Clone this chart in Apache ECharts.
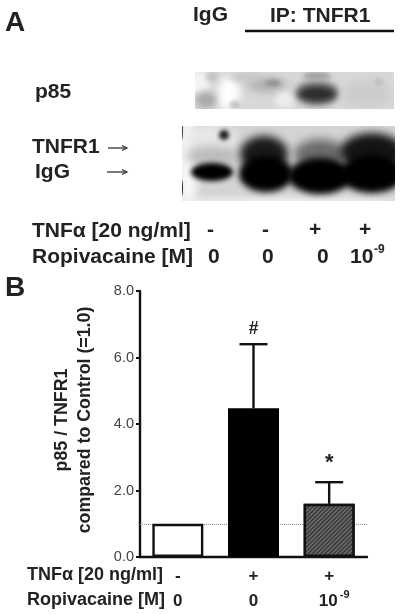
<!DOCTYPE html>
<html><head><meta charset="utf-8">
<style>html,body{margin:0;padding:0;background:#fff}#c{width:400px;height:614px;filter:blur(0.5px)}</style>
<script src="https://cdn.jsdelivr.net/npm/echarts@6/dist/echarts.min.js"></script>
</head><body><div id="c"></div>
<script>
const groups = ['Control', 'TNF', 'TNF + Ropivacaine'];
const values = [1.0, 4.47, 1.6];
const errorTops = [null, 6.4, 2.25];
const marks = ['', '#', '*'];
const tnfRow = ['-', '+', '+'];
const ropRow = ['0', '0', '10'];
const ropSup = ['', '', '-9'];
const yTicks = [0, 2, 4, 6, 8];
const reference = 1.0;
const FONT = '"Liberation Sans", Arial, sans-serif';
const INK = '#222';

function blotCanvas(w, h, bg, blobs) {
  const cv = document.createElement('canvas'); cv.width = w; cv.height = h;
  const g = cv.getContext('2d');
  g.fillStyle = bg; g.fillRect(0, 0, w, h);
  blobs.forEach(b => {
    g.filter = 'blur(' + b[5] + 'px)';
    g.fillStyle = b[4];
    g.beginPath(); g.ellipse(b[0], b[1], b[2], b[3], 0, 0, Math.PI * 2); g.fill();
  });
  g.filter = 'none';
  return cv;
}
const blotTop = blotCanvas(199, 37, '#d8d8d8', [
  [34, 22, 11, 18, '#ffffff', 4], [3, 10, 12, 12, '#f4f4f4', 3],
  [11, 28, 10, 8, '#a8a8a8', 3], [17, 5, 6, 5, '#c4c4c4', 2], [40, 33, 6, 4, '#c0c0c0', 2],
  [72, 13, 20, 7, '#b0b0b0', 4], [78, 11, 8, 3, '#8c8c8c', 2], [50, 5, 16, 4, '#c4c4c4', 3],
  [90, 28, 10, 8, '#eeeeee', 3], [122, 21, 22, 13, '#8c8c8c', 3], [122, 22, 19, 8, '#2c2c2c', 3],
  [122, 4, 14, 4, '#a0a0a0', 2], [172, 22, 24, 14, '#cccccc', 5], [184, 10, 4, 3, '#b8b8b8', 2]
]);
const blotBottom = blotCanvas(213, 75, '#d4d4d4', [
  [6, 38, 10, 50, '#f8f8f8', 4], [100, 76, 120, 5, '#eeeeee', 3],
  [30, 14, 26, 16, '#e8e8e8', 6], [30, 30, 26, 10, '#bcbcbc', 5], [42, 9, 5, 5, '#1a1a1a', 2],
  [30, 46, 21, 9, '#000', 2.5],
  [82, 28, 24, 18, '#1a1a1a', 4], [84, 48, 27, 18, '#000', 3],
  [138, 28, 26, 15, '#6c6c6c', 5], [138, 50, 32, 18, '#000', 3],
  [190, 26, 32, 19, '#141414', 4], [190, 48, 32, 19, '#000', 3],
  [0.5, 5, 0.5, 9, '#444', 0.5], [0.5, 62, 0.5, 8, '#333', 0.5]
]);

function t(x, y, text, size, extra) {
  return { type: 'text', x, y, silent: true, style: Object.assign({
    text, fontFamily: FONT, fontWeight: 'bold', fontSize: size, fill: INK,
    verticalAlign: 'middle', align: 'left' }, extra || {}) };
}
function arrow(x1, x2, y) {
  return [
    { type: 'line', silent: true, shape: { x1, y1: y, x2, y2: y }, style: { stroke: '#333', lineWidth: 1.3 } },
    { type: 'polyline', silent: true, shape: { points: [[x2 - 5, y - 2.5], [x2, y], [x2 - 5, y + 2.5]] }, style: { stroke: '#333', lineWidth: 1.2, fill: 'none' } }
  ];
}
const graphic = [
  t(5, 23, 'A', 28), t(5, 288, 'B', 28),
  t(193, 15, 'IgG', 21), t(270, 16, 'IP: TNFR1', 21),
  { type: 'line', silent: true, shape: { x1: 245, y1: 31, x2: 394, y2: 31 }, style: { stroke: '#111', lineWidth: 2.4 } },
  t(35, 92, 'p85', 21), t(32, 147, 'TNFR1', 21), t(35, 172, 'IgG', 21),
  ...arrow(108, 127, 148), ...arrow(107, 127, 172),
  { type: 'image', x: 195, y: 72, silent: true, style: { image: blotTop, width: 199, height: 37 } },
  { type: 'image', x: 182, y: 126, silent: true, style: { image: blotBottom, width: 213, height: 75 } },
  t(32, 231, 'TNF\u03b1 [20 ng/ml]', 21), t(32, 257, 'Ropivacaine [M]', 21),
  t(207, 230, '-', 21), t(262, 230, '-', 21), t(309, 230, '+', 21), t(359, 230, '+', 21),
  t(208, 257, '0', 21), t(262, 257, '0', 21), t(317, 257, '0', 21), t(350, 257, '10', 21),
  t(374, 250, '-9', 12),
  t(27, 575, 'TNF\u03b1 [20 ng/ml]', 18), t(27, 600, 'Ropivacaine [M]', 18)
];

const chart = echarts.init(document.getElementById('c'), null, { renderer: 'canvas' });
chart.setOption({
  animation: false,
  textStyle: { fontFamily: FONT },
  grid: { left: 140, top: 291, width: 227, height: 266, containLabel: false, outerBoundsMode: 'none' },
  graphic,
  xAxis: {
    type: 'category', data: groups,
    axisLine: { lineStyle: { color: '#111', width: 2.4 } },
    axisTick: { alignWithLabel: true, length: 5, lineStyle: { color: '#111', width: 2 } },
    axisLabel: {
      interval: 0, margin: 7, color: INK, fontWeight: 'bold', fontSize: 17, lineHeight: 25,
      formatter: (v, i) => '{b|' + tnfRow[i] + '}\n{' + (ropSup[i] ? 'e' : 'b') + '|' + ropRow[i] + '}' + (ropSup[i] ? '{s|' + ropSup[i] + '}' : ''),
      rich: {
        b: { fontFamily: FONT, fontWeight: 'bold', fontSize: 17, color: INK, lineHeight: 25 },
        e: { fontFamily: FONT, fontWeight: 'bold', fontSize: 17, color: INK, lineHeight: 25, padding: [0, 2, 0, 10] },
        s: { fontFamily: FONT, fontWeight: 'bold', fontSize: 11, color: INK, verticalAlign: 'top', lineHeight: 20 }
      }
    }
  },
  yAxis: {
    type: 'value', min: yTicks[0], max: yTicks[yTicks.length - 1], interval: yTicks[1] - yTicks[0],
    name: 'p85 / TNFR1\ncompared to Control (=1.0)', nameLocation: 'middle', nameGap: 43, nameRotate: 90,
    nameTextStyle: { fontFamily: FONT, fontWeight: 'bold', fontSize: 17.8, color: INK, lineHeight: 23, padding: [0, 0, 0, 8] },
    axisLine: { show: true, lineStyle: { color: '#111', width: 2.4 } },
    axisTick: { show: true, length: 4, lineStyle: { color: '#111', width: 2 } },
    axisLabel: { color: '#444', fontSize: 14.5, margin: 6, formatter: v => v.toFixed(1) },
    splitLine: { show: false }
  },
  series: [
    {
      type: 'bar', barWidth: 51, z: 3,
      data: values.map((v, i) => ({
        value: v,
        itemStyle: i === 0 ? { color: '#fff', borderColor: '#111', borderWidth: 2.4 }
          : i === 1 ? { color: '#000', borderColor: '#000', borderWidth: 2.4 }
          : { color: '#5c5c5c', borderColor: '#111', borderWidth: 2.4,
              decal: { symbol: 'rect', symbolSize: 1, dashArrayX: [1, 0], dashArrayY: [1, 2], rotation: -Math.PI / 4, color: '#2a2a2a', backgroundColor: '#666' } }
      })),
      markLine: {
        silent: true, symbol: 'none', z: 1, label: { show: false },
        lineStyle: { color: '#888', type: 'dotted', width: 1 },
        data: [{ yAxis: reference }]
      }
    },
    {
      type: 'custom', z: 2,
      data: errorTops.map((v, i) => [i, values[i], v, marks[i]]),
      encode: { x: 0, y: 2 },
      renderItem(params, api) {
        const i = api.value(0), top = api.value(2);
        if (!top || isNaN(top)) return { type: 'group', children: [] };
        const a = api.coord([i, api.value(1)]), b = api.coord([i, top]);
        const s = { stroke: '#111', lineWidth: 2.4 };
        const star = marks[i] === '*';
        return { type: 'group', children: [
          { type: 'line', shape: { x1: a[0], y1: a[1], x2: b[0], y2: b[1] }, style: s },
          { type: 'line', shape: { x1: b[0] - 14, y1: b[1], x2: b[0] + 14, y2: b[1] }, style: s },
          { type: 'text', x: b[0], y: b[1] - (star ? 19 : 15), style: { text: marks[i], fontFamily: FONT, fontWeight: 'bold', fontSize: star ? 22 : 17.5, fill: INK, align: 'center', verticalAlign: 'middle' } }
        ] };
      }
    }
  ]
});
</script></body></html>
